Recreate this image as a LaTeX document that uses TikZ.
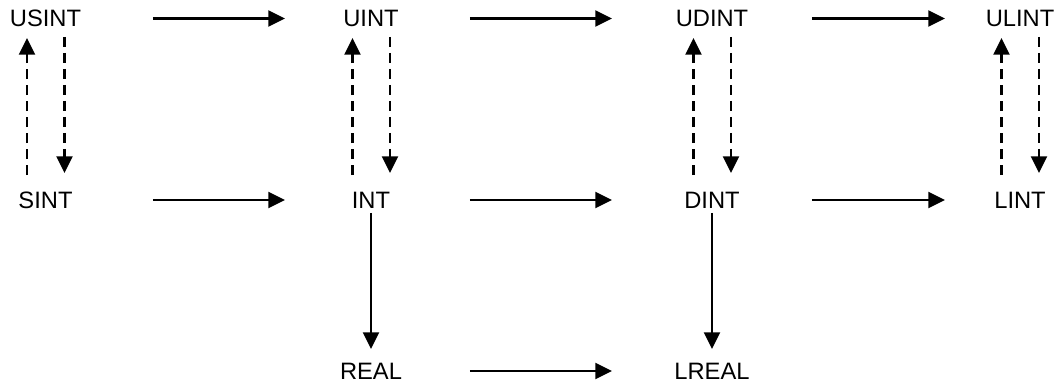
\documentclass[tikz,border=0pt]{standalone}
\usepackage{fontspec}
\setmainfont{Liberation Sans}
\usetikzlibrary{arrows.meta}

\begin{document}
\begin{tikzpicture}[x=0.02cm,y=-0.02cm,
  typ/.style={inner sep=0pt,font=\fontsize{13.5}{16}\selectfont},
  conv/.style={-{Triangle[length=9.5pt,width=9pt]},line width=1.5pt},
  cast/.style={conv,dash pattern=on 5.7pt off 3.4pt}]
\useasboundingbox (0,0) rectangle (1054,385);

\node[typ] (usint) at (45.5,18.5) {USINT};
\node[typ] (uint)  at (371,18.5)  {UINT};
\node[typ] (udint) at (712,18.5)  {UDINT};
\node[typ] (ulint) at (1020,18.5) {ULINT};

\node[typ] (sint) at (45.5,200) {SINT};
\node[typ] (int)  at (371,200)  {INT};
\node[typ] (dint) at (712,200)  {DINT};
\node[typ] (lint) at (1020,200) {LINT};

\node[typ] (real)  at (371,371) {REAL};
\node[typ] (lreal) at (712,371) {LREAL};

% widening conversions
\foreach \a/\b/\s/\e in {usint/uint/2.15/1.72, uint/udint/1.98/2.0, udint/ulint/2.0/1.5,
                         sint/int/2.15/1.72, int/dint/1.98/2.0, dint/lint/2.0/1.5,
                         real/lreal/1.98/2.0}
  \draw[conv,shorten <=\s cm,shorten >=\e cm] (\a.center) -- (\b.center);

% signed <-> unsigned
\foreach \u/\i in {usint/sint, uint/int, udint/dint, ulint/lint} {
  \draw[cast,shorten <=0.5cm,shorten >=0.39cm] ([xshift=-0.37cm]\i.center) -- ([xshift=-0.37cm]\i.center |- \u.center);
  \draw[cast,shorten <=0.37cm,shorten >=0.54cm] ([xshift=0.38cm]\i.center |- \u.center) -- ([xshift=0.38cm]\i.center);
}

% to floating point
\draw[conv,shorten <=0.26cm,shorten >=0.44cm] (int.center) -- (real.center);
\draw[conv,shorten <=0.26cm,shorten >=0.44cm] (dint.center) -- (lreal.center);
\end{tikzpicture}
\end{document}
